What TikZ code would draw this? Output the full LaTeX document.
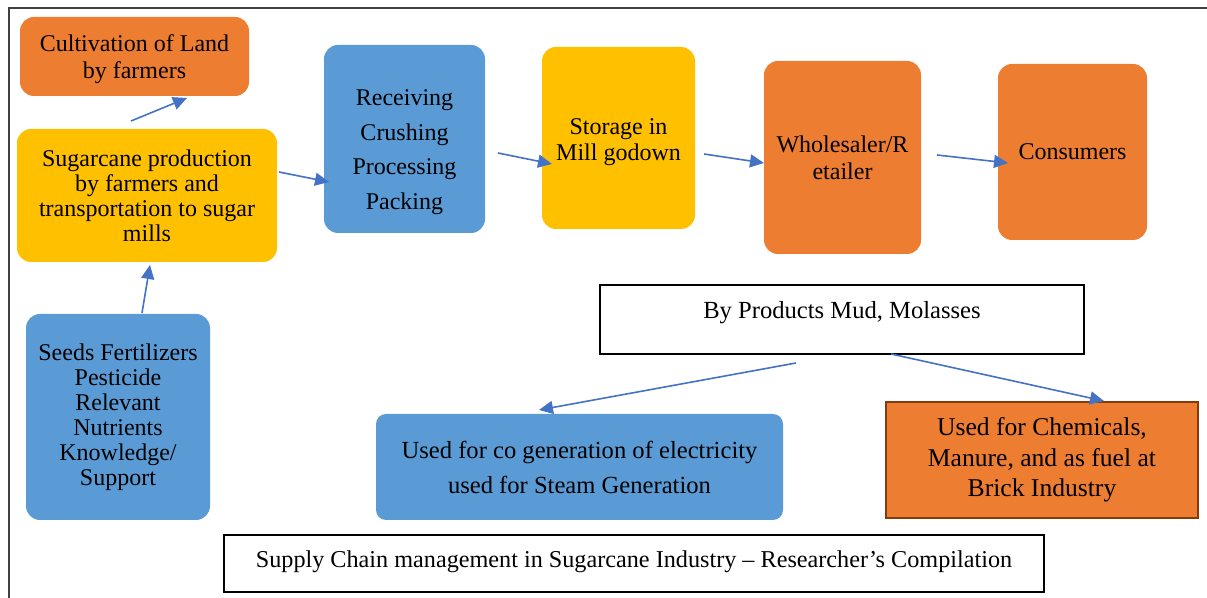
\documentclass[tikz,border=0pt]{standalone}
\usepackage{fontspec}
\setmainfont{Liberation Serif}
\usetikzlibrary{arrows.meta}
\definecolor{corange}{HTML}{ED7D31}
\definecolor{cyellow}{HTML}{FFC000}
\definecolor{cblue}{HTML}{5B9BD5}
\definecolor{carrow}{HTML}{4472C4}
\definecolor{cbrown}{HTML}{843C0C}
\definecolor{cframe}{HTML}{404040}
\tikzset{
  box/.style={rounded corners=7pt, inner sep=0pt, align=center, text=black},
  ob/.style={box, fill=corange},
  yb/.style={box, fill=cyellow},
  bb/.style={box, fill=cblue},
  wb/.style={draw=black, line width=1.25pt, fill=white, inner sep=0pt},
  txt/.style={align=center, inner sep=0pt, text=black},
  conn/.style={draw=carrow, line width=0.8pt, -{Triangle[length=7pt,width=6.5pt]}},
}
\begin{document}
\begin{tikzpicture}[x=0.5pt,y=-0.5pt]
\useasboundingbox (0,0) rectangle (1207,598);
% frame
\draw[cframe, line width=1pt] (9,598) -- (9,8.5) -- (1207,8.5);

% boxes
\node[ob, minimum width=114.5pt, minimum height=39.5pt] (cult) at (134.5,56.5) {};
\node[txt, font=\fontsize{12}{13.5}\selectfont] (cultt) at (134.5,59.5) {Cultivation of Land\\by farmers};
\node[yb, minimum width=130pt, minimum height=66.5pt, font=\fontsize{12}{12.5}\selectfont] (sugar) at (147,195.5) {Sugarcane production\\by farmers and\\transportation to sugar\\mills};
\node[bb, minimum width=80.5pt, minimum height=94pt] (recv) at (404.5,139) {};
\node[txt, font=\fontsize{12}{17.25}\selectfont] (recvt) at (404.5,152) {Receiving\\Crushing\\Processing\\Packing};
\node[yb, minimum width=76.5pt, minimum height=91pt] (stor) at (618.5,138) {};
\node[txt, font=\fontsize{12}{13}\selectfont] (stort) at (618.5,142) {Storage in\\Mill godown};
\node[ob, minimum width=78.5pt, minimum height=96.5pt, font=\fontsize{12}{13.5}\selectfont] (whole) at (842.5,157.5) {Wholesaler/R\\etailer};
\node[ob, minimum width=74.5pt, minimum height=88pt, font=\fontsize{12}{13.5}\selectfont] (cons) at (1072.5,152) {Consumers};
\node[bb, minimum width=92pt, minimum height=103pt, font=\fontsize{12}{12.5}\selectfont] (seeds) at (118,417) {Seeds Fertilizers\\Pesticide\\Relevant\\Nutrients\\Knowledge/\\Support};
\node[wb, minimum width=242pt, minimum height=34.5pt] (byp) at (842,319.5) {};
\node[txt, font=\fontsize{12.3}{13}\selectfont] (bypt) at (842,313) {By Products Mud, Molasses};
\node[bb, rounded corners=5pt, minimum width=203.5pt, minimum height=53pt, font=\fontsize{12.3}{17.5}\selectfont] (cogen) at (579.5,467) {Used for co generation of electricity\\used for Steam Generation};
\node[draw=cbrown, line width=1.3pt, fill=corange, inner sep=0pt, align=center, minimum width=156pt, minimum height=58pt, font=\fontsize{12.8}{15.25}\selectfont] (chem) at (1042,460) {Used for Chemicals,\\Manure, and as fuel at\\Brick Industry};
\node[wb, minimum width=410pt, minimum height=28.5pt] (cap) at (634,563.5) {};
\node[txt, font=\fontsize{12.1}{13}\selectfont] (capt) at (634,562) {Supply Chain management in Sugarcane Industry -- Researcher’s Compilation};

% connector end points
\coordinate (a1s) at (131,121); \coordinate (a1e) at (187,98);
\coordinate (a2s) at (279,172); \coordinate (a2e) at (329,182);
\coordinate (a3s) at (498,153); \coordinate (a3e) at (552,164);
\coordinate (a4s) at (704,154); \coordinate (a4e) at (764,163);
\coordinate (a5s) at (937,155); \coordinate (a5e) at (1008,163);
\coordinate (a6s) at (142,313); \coordinate (a6e) at (150,265);
\coordinate (a7s) at (796,363); \coordinate (a7e) at (539,410);
\coordinate (a8s) at (891,354); \coordinate (a8e) at (1104,401);

\draw[conn] (a1s) -- (a1e);
\draw[conn] (a2s) -- (a2e);
\draw[conn] (a3s) -- (a3e);
\draw[conn] (a4s) -- (a4e);
\draw[conn] (a5s) -- (a5e);
\draw[conn] (a6s) -- (a6e);
\draw[conn] (a7s) -- (a7e);
\draw[conn] (a8s) -- (a8e);
\end{tikzpicture}
\end{document}
